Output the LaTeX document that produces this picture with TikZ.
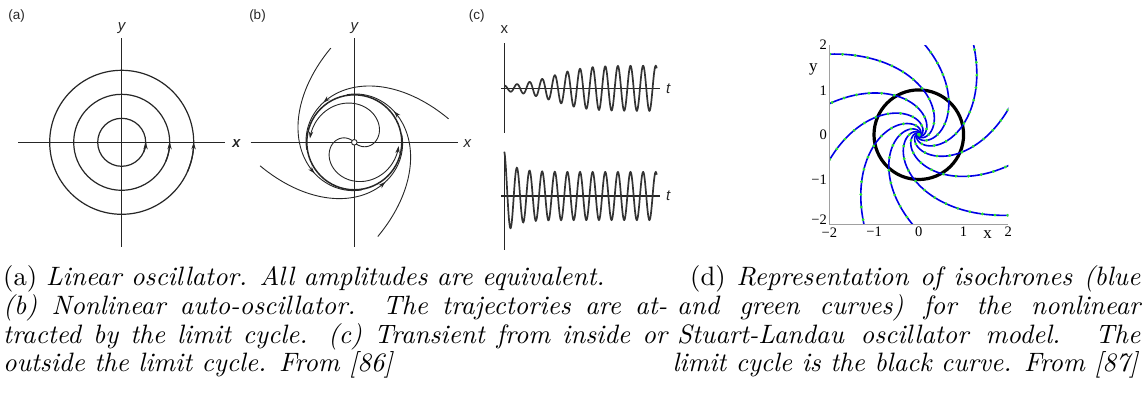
\documentclass[tikz,border=0pt]{standalone}
\usepackage{fontspec}
\usepackage{graphicx}
\newfontfamily\hvfont{Liberation Sans}
\newfontfamily\tmfont{Liberation Serif}
\usetikzlibrary{arrows.meta}
\definecolor{isoblue}{RGB}{0,0,230}
\definecolor{isogreen}{RGB}{40,235,40}
\definecolor{axgray}{RGB}{160,160,160}
\tikzset{
 ax/.style={line width=1.2pt, draw=black!85},
 lc/.style={line width=1.5pt, draw=black!85},
 trj/.style={line width=0.9pt, draw=black!85},
 tip/.style={-{Stealth[length=7pt,width=4.4pt]}},
 wave/.style={line width=1.7pt, draw=black!80},
 plab/.style={font=\hvfont\fontsize{13.5}{16}\selectfont, inner sep=0pt, text=black!85},
 alab/.style={font=\hvfont\itshape\fontsize{15}{18}\selectfont, inner sep=0pt, text=black!85},
 alabu/.style={font=\hvfont\fontsize{15}{18}\selectfont, inner sep=0pt, text=black!85},
 tick/.style={font=\tmfont\fontsize{14.5}{16}\selectfont, inner sep=0pt},
 dlab/.style={font=\tmfont\fontsize{17}{19}\selectfont, inner sep=0pt},
 isob/.style={line width=1.6pt, draw=isoblue},
 isog/.style={line width=3pt, draw=isogreen, line cap=round, dash pattern=on 0.1pt off 12.6pt},
 dax/.style={line width=1.4pt, draw=axgray},
 capl/.style={inner sep=0pt, anchor=base west},
 capr/.style={inner sep=0pt, anchor=base east},
}
\begin{document}
\begin{tikzpicture}[x=1pt,y=-1pt]
\useasboundingbox (0,0) rectangle (1144,394);
\fill[white] (0,0) rectangle (1144,394);

% ---------- panel (a)
\coordinate (ca) at (121.7,142.3);
\coordinate (axl) at (18.3,142.3); \coordinate (axr) at (225,142.3);
\coordinate (ayt) at (121.7,38.3); \coordinate (ayb) at (121.7,246.7);
\draw[ax] (axl) -- (axr);
\draw[ax] (ayt) -- (ayb);
\foreach \r in {24,48,72}{
  \draw[ax] (ca) circle[radius=\r];
  \draw[ax,tip] plot[domain=-24:0,samples=12] ({121.7+\r*cos(\x)},{142.3-\r*sin(\x)});
}
\node[plab] (la) at (16.7,15.8) {(a)};
\node[alab] (lay) at (121.7,28.3) {y};
\node[alab] (lax) at (236,143.3) {x};

% ---------- panel (b)
\coordinate (cb) at (354.3,142.3);
\coordinate (bxl) at (250.7,142.3); \coordinate (bxr) at (458.3,142.3);
\coordinate (byt) at (354.3,38.3); \coordinate (byb) at (354.3,246.7);
\draw[ax] (bxl) -- (bxr);
\draw[ax] (byt) -- (byb);
\draw[lc] (cb) circle[radius=47.5];
% inner spirals
\draw[trj,tip] plot[domain=140:355,samples=90] ({354.3+(47.5-29.7*exp(-0.0126*(\x-172.6)))*cos(\x)},{142.3-(47.5-29.7*exp(-0.0126*(\x-172.6)))*sin(\x)});
\draw[trj,tip] plot[domain=320:535,samples=90] ({354.3+(47.5-29.7*exp(-0.0126*(\x-352.6)))*cos(\x)},{142.3-(47.5-29.7*exp(-0.0126*(\x-352.6)))*sin(\x)});
% outer trajectories
\foreach \t in {104,194,284,374}{
  \draw[trj,tip] plot[domain=\t:\t+114,samples=60] ({354.3+(47.5+49.6*exp(-0.025*(\x-\t)))*cos(\x)},{142.3-(47.5+49.6*exp(-0.025*(\x-\t)))*sin(\x)});
  \draw[trj] plot[domain=\t+112:\t+175,samples=40] ({354.3+(47.5+49.6*exp(-0.025*(\x-\t)))*cos(\x)},{142.3-(47.5+49.6*exp(-0.025*(\x-\t)))*sin(\x)});
}
\draw[trj,fill=white] (cb) circle[radius=2.8];
\node[plab] (lb) at (257.5,15.8) {(b)};
\node[alab] (lby) at (354.3,28.3) {y};
\node[alab] (lbxl) at (236.7,143.3) {x};
\node[alab] (lbxr) at (467.3,143.3) {x};

% ---------- panel (c)
\coordinate (c1t) at (504.3,43.3); \coordinate (c1b) at (504.3,133.3);
\coordinate (c1l) at (501,88.3); \coordinate (c1r) at (660,88.3);
\coordinate (c2t) at (504.3,151.7); \coordinate (c2b) at (504.3,250);
\coordinate (c2l) at (501,196); \coordinate (c2r) at (660,196);
\draw[ax] (c1t) -- (c1b);
\draw[ax] (c1l) -- (c1r);
\draw[ax] (c2t) -- (c2b);
\draw[ax] (c2l) -- (c2r);
\draw[wave] plot[domain=0:152.4,samples=500] ({504.3+\x},{88.3-22.5/sqrt(1+45.5*exp(-0.07*(\x-5.7)))*cos(28.526*\x)});
\draw[wave] plot[domain=0:152.4,samples=500] ({504.3+\x},{196-24/sqrt(1-0.7065*exp(-0.075*\x))*cos(28.526*\x)});
\node[plab] (lc) at (476.7,15.8) {(c)};
\node[alabu] (lcx) at (504.3,29.3) {x};
\node[alab] (lct1) at (668.3,88.3) {t};
\node[alab] (lct2) at (668.3,196) {t};

% ---------- panel (d)
\coordinate (cd) at (918.8,134.7);
\begin{scope}
  \clip (829.3,45) rectangle (1008.3,224.3);
  \draw[line width=3.2pt] (cd) circle[radius=44.8];
  \foreach \k in {0,...,9}{
    \pgfmathsetmacro\ph{84+36*\k}
    \draw[isob] plot[domain=-4.6:1.1,samples=200,variable=\u] ({918.8+44.8*exp(\u)*cos(\ph+54.6*\u)},{134.7-44.8*exp(\u)*sin(\ph+54.6*\u)});
    \draw[isog] plot[domain=-4.6:1.1,samples=200,variable=\u] ({918.8+44.8*exp(\u)*cos(\ph+54.6*\u)},{134.7-44.8*exp(\u)*sin(\ph+54.6*\u)});
  }
\end{scope}
\coordinate (dtl) at (829.3,45); \coordinate (dbl) at (829.3,224.3); \coordinate (dbr) at (1008.3,224.3);
\draw[dax] (dtl) -- (dbl) -- (dbr);
\node[tick,anchor=east] (ty2) at (827,45) {2};
\node[tick,anchor=east] (ty1) at (827,90.5) {1};
\node[tick,anchor=east] (ty0) at (827,135) {0};
\node[tick,anchor=east] (tym1) at (827,180) {−1};
\node[tick,anchor=east] (tym2) at (827,219.5) {−2};
\node[tick,anchor=north] (txm2) at (829.3,228) {−2};
\node[tick,anchor=north] (txm1) at (874.1,227) {−1};
\node[tick,anchor=north] (tx0) at (918.8,227) {0};
\node[tick,anchor=north] (tx1) at (963.6,227) {1};
\node[tick,anchor=north] (tx2) at (1008.3,227) {2};
\node[dlab] (ldx) at (987.7,235) {x};
\node[dlab] (ldy) at (813.3,69.3) {y};

% ---------- captions
\node[capl] (cap1) at (3,285.5) {\scalebox{2.66}{(a) \itshape Linear oscillator. All amplitudes are equivalent.}};
\node[capl] (cap2) at (3,314.3) {\scalebox{2.66}{\makebox[249.6pt][s]{\itshape (b) Nonlinear auto-oscillator. The trajectories are at-}}};
\node[capl] (cap3) at (3,343.1) {\scalebox{2.66}{\makebox[249.6pt][s]{\itshape tracted by the limit cycle. (c) Transient from inside or}}};
\node[capl] (cap4) at (3,371.9) {\scalebox{2.66}{\itshape outside the limit cycle. From [86]}};
\node[capl] (cap5) at (690,285.5) {\scalebox{2.66}{\makebox[169.2pt][s]{(d) \itshape Representation of isochrones (blue}}};
\node[capl] (cap6) at (677,314.3) {\scalebox{2.66}{\makebox[174.1pt][s]{\itshape and green curves) for the nonlinear}}};
\node[capl] (cap7) at (677,343.1) {\scalebox{2.66}{\makebox[174.1pt][s]{\itshape Stuart-Landau oscillator model. The}}};
\node[capr] (cap8) at (1138,371.9) {\scalebox{2.66}{\itshape limit cycle is the black curve. From [87]}};
\end{tikzpicture}
\end{document}
